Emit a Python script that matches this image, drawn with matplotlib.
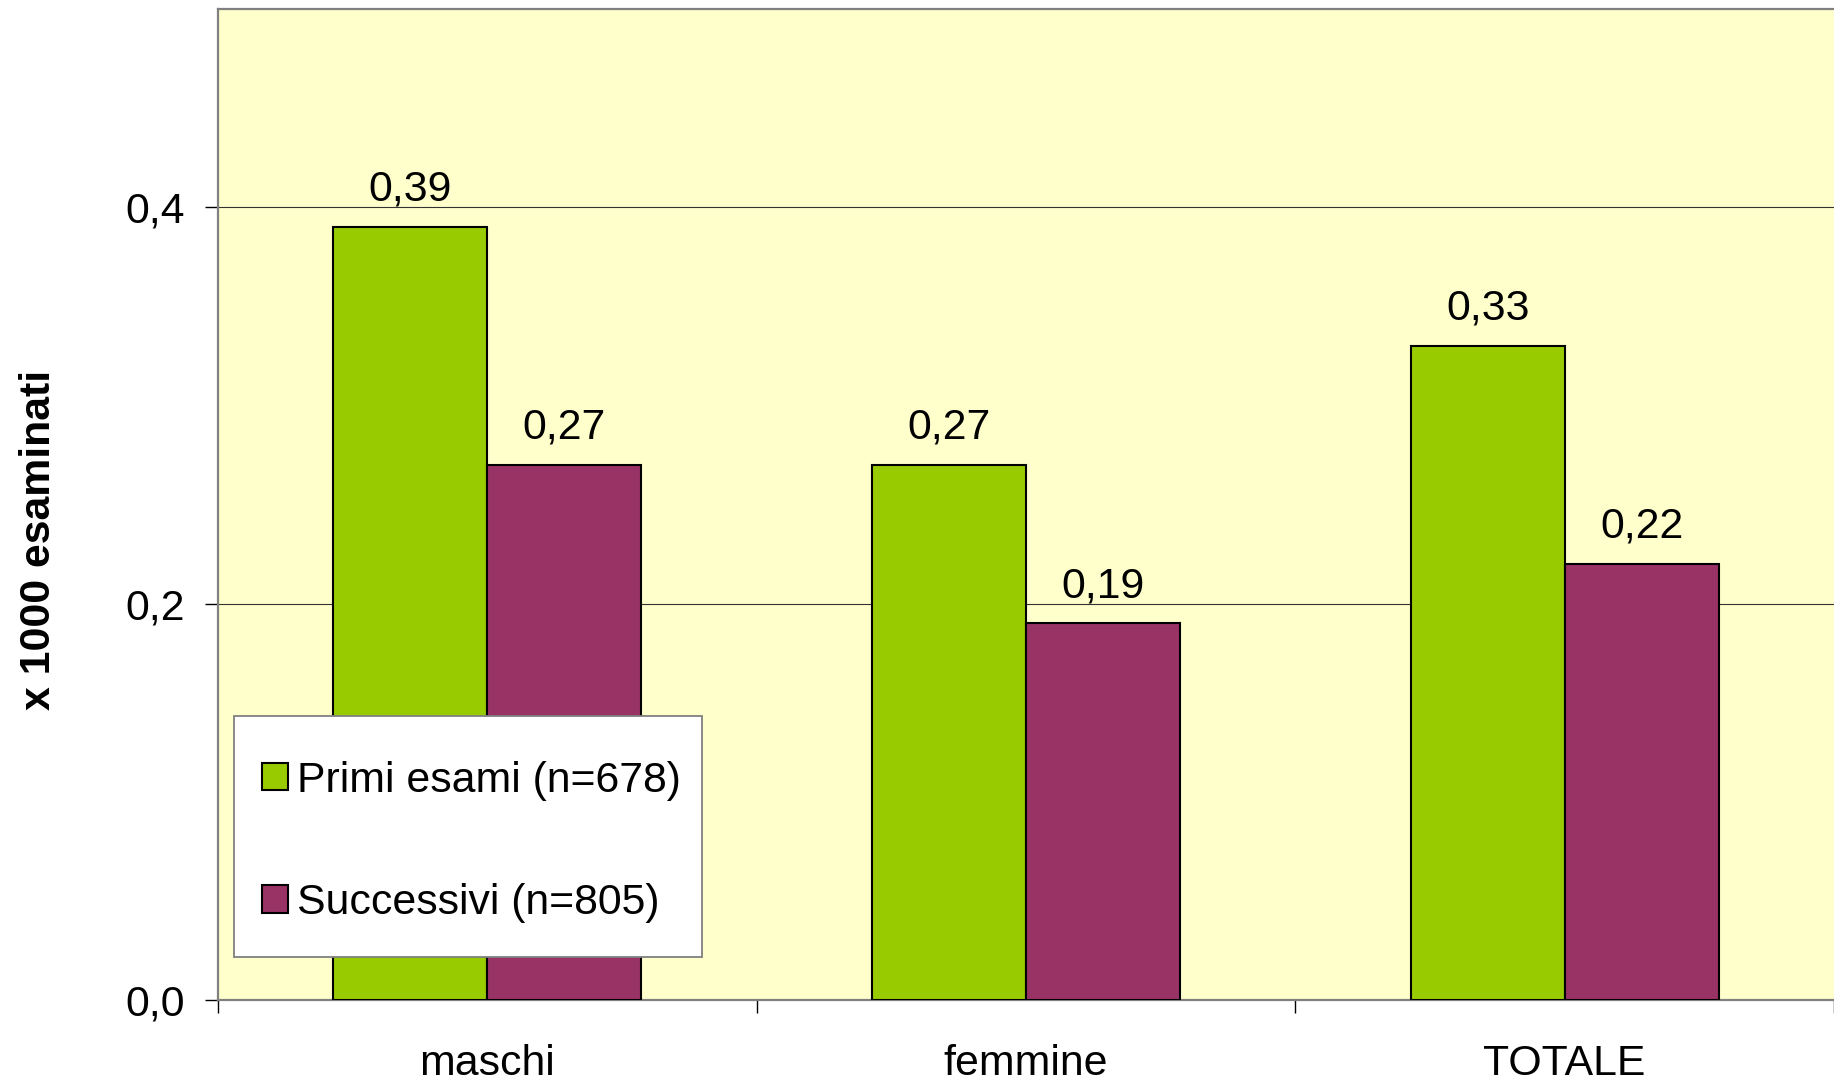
import numpy as np
import matplotlib
matplotlib.use('Agg')
import matplotlib.pyplot as plt
from matplotlib.patches import Patch, Rectangle

# data
categories = ['maschi', 'femmine', 'TOTALE']
primi = [0.39, 0.27, 0.33]
successivi = [0.27, 0.19, 0.22]
series_labels = ['Primi esami (n=678)', 'Successivi (n=805)']
y_ticks = [0.0, 0.2, 0.4]

plt.rcParams['font.family'] = ['Liberation Sans', 'DejaVu Sans']
FS = 30.8

green = '#99CC00'
purple = '#993366'
bg = '#FFFFCC'

fig = plt.figure(figsize=(18.34, 10.82), dpi=100)
ax = fig.add_axes([218 / 1834, 82 / 1082, 1616 / 1834, 991 / 1082])
ax.set_facecolor(bg)

x = np.arange(len(categories))
w = 1 / 3.5
b1 = ax.bar(x - w / 2, primi, w, color=green, edgecolor='black', linewidth=1.5, zorder=3)
b2 = ax.bar(x + w / 2, successivi, w, color=purple, edgecolor='black', linewidth=1.5, zorder=3)

# value labels with comma decimals
for bars, vals in [(b1, primi), (b2, successivi)]:
    for r, v in zip(bars, vals):
        ax.annotate(f'{v:.2f}'.replace('.', ','),
                    xy=(r.get_x() + r.get_width() / 2, v),
                    xytext=(0, 19), textcoords='offset points',
                    ha='center', va='baseline', fontsize=FS, zorder=4)

ax.set_xlim(-0.5, len(categories) - 0.5)
ax.set_ylim(0, 0.5)

# y axis
ax.set_yticks(y_ticks)
ax.set_yticklabels([f'{t:.1f}'.replace('.', ',') for t in y_ticks])
ax.tick_params(axis='y', direction='out', length=9.5, width=1, labelsize=FS, pad=14, color='black')
for t in y_ticks[1:]:
    ax.axhline(t, color='#333333', linewidth=0.8, zorder=1)

# x axis: ticks at group boundaries, labels in the middle
ax.set_xticks(np.arange(-0.5, len(categories), 1.0))
ax.set_xticklabels([])
ax.tick_params(axis='x', which='major', direction='out', length=9.5, width=1, color='black')
ax.set_xticks(x, minor=True)
ax.set_xticklabels(categories, minor=True)
ax.tick_params(axis='x', which='minor', length=0, labelsize=FS, pad=32)

for side in ['left', 'top', 'bottom']:
    ax.spines[side].set_color('#808080')
    ax.spines[side].set_linewidth(1.6)
ax.spines['right'].set_visible(False)

ax.set_ylabel('x 1000 esaminati', fontsize=FS, fontweight='bold')
ax.yaxis.set_label_coords(-0.0987, 0.464)

# legend box drawn separately so its padding can match the original
ax.add_patch(Rectangle((0.0099, 0.0434), 0.2896, 0.2432, transform=ax.transAxes,
                       facecolor='white', edgecolor='#808080', linewidth=1.3, zorder=5))
handles = [Patch(facecolor=green, edgecolor='black', linewidth=1.5),
           Patch(facecolor=purple, edgecolor='black', linewidth=1.5)]
leg = ax.legend(handles, series_labels, loc='center left',
                bbox_to_anchor=(0.0272, 0.1595), borderaxespad=0, borderpad=0,
                fontsize=FS, frameon=False, handlelength=0.6, handleheight=0.6,
                handletextpad=0.22, labelspacing=1.92)
leg.set_zorder(6)

fig.savefig('out.png', dpi=100)
